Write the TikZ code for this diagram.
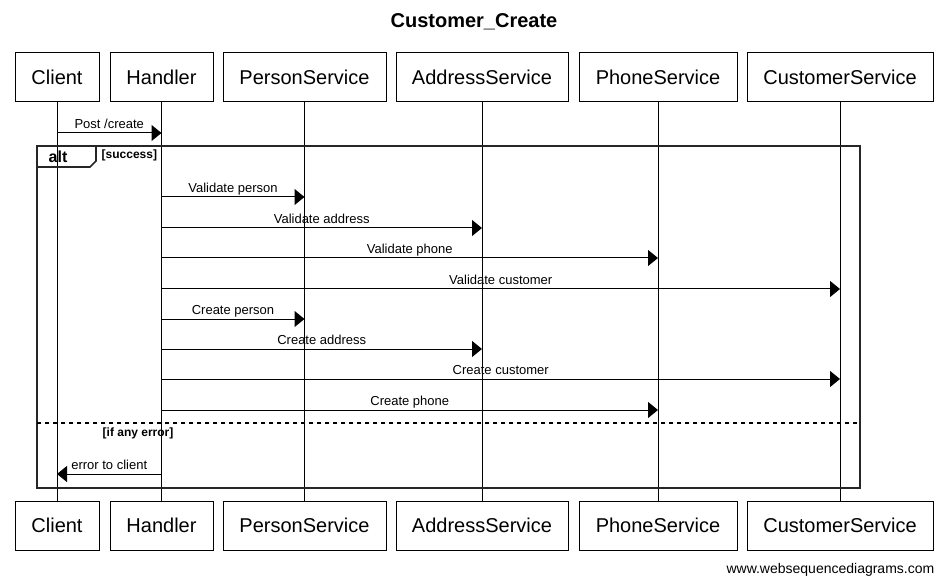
\documentclass[tikz,border=0pt]{standalone}
\usepackage{fontspec}
\setmainfont{Liberation Sans}
\usetikzlibrary{arrows.meta}

\begin{document}
\begin{tikzpicture}[x=0.75pt, y=-0.75pt,
    actor/.style={draw, line width=0.75pt, minimum height=36.75pt, inner sep=0pt,
      font=\fontsize{15}{18}\selectfont},
    msg/.style={line width=0.75pt, -{Triangle[length=7.5pt, width=12pt]}},
    msglabel/.style={anchor=base, yshift=3.4pt, font=\fontsize{9.75}{12}\selectfont},
    guard/.style={anchor=west, font=\bfseries\fontsize{9}{11}\selectfont}]
  \useasboundingbox (0,0) rectangle (948,584);

  % Title
  \node[font=\bfseries\fontsize{15}{18}\selectfont] (title) at (474,22) {Customer\_Create};

  % Participants (top and bottom)
  \foreach \name/\x/\w in {Client/57/84, Handler/161.5/103, PersonService/304.5/163,
      AddressService/482/172, PhoneService/658/158, CustomerService/840/186} {
    \node[actor, minimum width=\w*0.75pt] (\name) at (\x,77.5) {\name};
    \node[actor, minimum width=\w*0.75pt] (\name-bot) at (\x,525.5) {\name};
    \draw[line width=0.75pt] (\name) -- (\name-bot);
  }

  % alt frame
  \draw[line width=1.2pt, black!85] (37,146) rectangle (860,488);
  \draw[line width=1.2pt, black!85] (37,167) -- (90,167) -- (96,161) -- (96,146);
  \node[anchor=west, font=\bfseries\fontsize{12}{14}\selectfont] (alt) at (44,157) {alt};
  \node[guard] (success) at (97,155.5) {[success]};
  \draw[line width=1pt, dashed] (37,423) -- (860,423);
  \node[guard] (anyerror) at (98,433.5) {[if any error]};

  % Messages
  \foreach \y/\src/\dst/\label in {133/Client/Handler/{Post /create},
      197/Handler/PersonService/Validate person,
      228/Handler/AddressService/Validate address,
      258/Handler/PhoneService/Validate phone,
      289/Handler/CustomerService/Validate customer,
      319/Handler/PersonService/Create person,
      349/Handler/AddressService/Create address,
      379/Handler/CustomerService/Create customer,
      410/Handler/PhoneService/Create phone,
      474/Handler/Client/error to client}
    \draw[msg] (\src |- 0,\y) -- (\dst |- 0,\y) node[msglabel, midway] {\label};

  % Footer
  \node[anchor=east, font=\fontsize{10.5}{12}\selectfont] (footer) at (939,570) {www.websequencediagrams.com};
\end{tikzpicture}
\end{document}
